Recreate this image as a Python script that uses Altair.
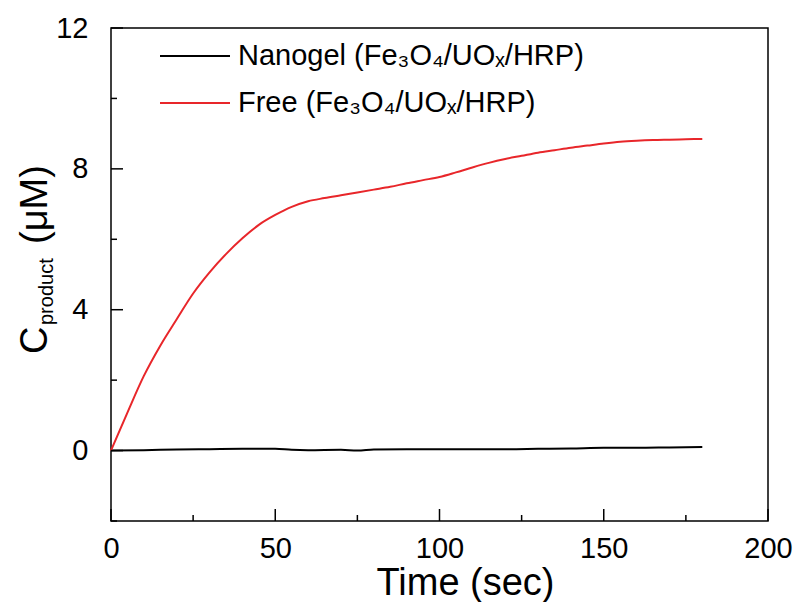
import altair as alt
import pandas as pd

# ---- data ----
free_time = [0, 5, 10, 15, 20, 25, 30, 35, 40, 45, 50, 55, 60, 65, 70, 75, 80, 85, 90,
             95, 100, 105, 110, 115, 120, 125, 130, 135, 140, 145, 150, 155, 160, 165,
             170, 175, 180]
free_value = [0.0, 1.08, 2.12, 2.98, 3.73, 4.46, 5.06, 5.58, 6.03, 6.41, 6.69, 6.92,
              7.08, 7.17, 7.25, 7.33, 7.41, 7.49, 7.59, 7.68, 7.77, 7.90, 8.04, 8.17,
              8.28, 8.37, 8.46, 8.53, 8.60, 8.66, 8.72, 8.77, 8.80, 8.82, 8.83, 8.84, 8.85]
nano_time = [0, 10, 20, 30, 40, 50, 55, 60, 70, 75, 80, 90, 100, 110, 120, 130, 140,
             150, 160, 170, 180]
nano_value = [0.0, 0.01, 0.03, 0.04, 0.05, 0.05, 0.02, 0.01, 0.02, 0.0, 0.03, 0.04,
              0.04, 0.04, 0.04, 0.05, 0.06, 0.08, 0.08, 0.09, 0.10]

series_names = ["Nanogel", "Free"]
series_colors = ["#000000", "#e8262a"]
legend_labels = ["Nanogel (Fe\u2083O\u2084/UO\u2093/HRP)", "Free (Fe\u2083O\u2084/UO\u2093/HRP)"]

x_major = [0, 50, 100, 150, 200]
x_minor = [25, 75, 125, 175]
y_major = [0, 4, 8, 12]
y_minor = [-2, 2, 6, 10]
y_title_parts = ["C", "product", "(\u03bcM)"]

FONT = "Liberation Sans"
W, H = 657, 493

df = pd.concat([
    pd.DataFrame({"time": nano_time, "value": nano_value, "series": series_names[0]}),
    pd.DataFrame({"time": free_time, "value": free_value, "series": series_names[1]}),
])

xs = alt.Scale(domain=[0, 200], nice=False, zero=False)
ys = alt.Scale(domain=[-2, 12], nice=False, zero=False)

xaxis = alt.Axis(values=x_major, title="Time (sec)", tickSize=0, domain=False, grid=False,
                 labelFontSize=29, labelPadding=13, labelFont=FONT, labelColor="black",
                 labelFlush=False, format="d",
                 titleFontSize=38, titleFont=FONT, titleFontWeight="normal", titleColor="black",
                 titleX=354, titleY=73, titleAlign="center", titleBaseline="alphabetic")
yaxis = alt.Axis(values=y_major, title=None, tickSize=0, domain=False, grid=False,
                 labelFontSize=29, labelPadding=23, labelFont=FONT, labelColor="black",
                 labelFlush=False, format="d")

x_enc = alt.X("time:Q", scale=xs, axis=xaxis)
y_enc = alt.Y("value:Q", scale=ys, axis=yaxis)

lines = alt.Chart(df).mark_line(strokeWidth=2, interpolate="monotone").encode(
    x=x_enc, y=y_enc,
    color=alt.Color("series:N", scale=alt.Scale(domain=series_names, range=series_colors), legend=None),
)

xmaj = alt.Chart(pd.DataFrame({"time": x_major})).mark_rule(color="black", strokeWidth=1.5).encode(
    x=x_enc, y=alt.value(H), y2=alt.value(H - 12))
xmin = alt.Chart(pd.DataFrame({"time": x_minor})).mark_rule(color="black", strokeWidth=1.5).encode(
    x=x_enc, y=alt.value(H), y2=alt.value(H - 6))
ymaj = alt.Chart(pd.DataFrame({"value": y_major})).mark_rule(color="black", strokeWidth=1.5).encode(
    y=y_enc, x=alt.value(0), x2=alt.value(12))
ymin = alt.Chart(pd.DataFrame({"value": y_minor})).mark_rule(color="black", strokeWidth=1.5).encode(
    y=y_enc, x=alt.value(0), x2=alt.value(6))

# manual legend
leg = []
for i, (lab, col) in enumerate(zip(legend_labels, series_colors)):
    ly = 28 + i * 47
    leg.append(alt.Chart(pd.DataFrame({"label": [lab]})).mark_rule(color=col, strokeWidth=2).encode(
        x=alt.value(49), x2=alt.value(119), y=alt.value(ly)))
    leg.append(alt.Chart(pd.DataFrame({"label": [lab]})).mark_text(
        align="left", baseline="alphabetic", font=FONT, fontSize=29, color="black").encode(
        x=alt.value(127), y=alt.value(ly + 9), text="label:N"))

# y-axis title with subscript
yt = []
yt_specs = [(-64, 326, 38), (-58, 297, 20), (-64, 216, 38)]
for part, (px, py, fs) in zip(y_title_parts, yt_specs):
    yt.append(alt.Chart(pd.DataFrame({"t": [part]})).mark_text(
        align="left", baseline="alphabetic", angle=270, font=FONT, fontSize=fs, color="black").encode(
        x=alt.value(px), y=alt.value(py), text="t:N"))

chart = alt.layer(lines, xmaj, xmin, ymaj, ymin, *leg, *yt).properties(
    width=W, height=H,
    autosize=alt.AutoSizeParams(type="none"),
    padding={"left": 103, "top": 20, "right": 32, "bottom": 81},
    background="white",
).configure_view(stroke="black", strokeWidth=1.5)

chart.save("out.html", embed_options={"renderer": "svg", "actions": False})
